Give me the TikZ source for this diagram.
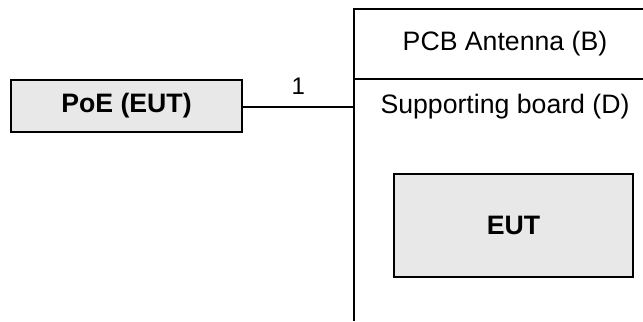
\documentclass[tikz,border=0pt]{standalone}
\usepackage{fontspec}
\setmainfont{Liberation Sans}

\tikzset{
  unit/.style={draw, fill=gray!18, font=\bfseries, inner sep=0pt},
}

\begin{document}
\begin{tikzpicture}[x=0.375pt, y=-0.375pt, line width=0.6pt]
        \useasboundingbox (0,0) rectangle (643,321);

        % Marco de la placa (abierto a la derecha y abajo)
        \draw (643,9) -- (354,9) -- (354,321);
        \draw (354,79) -- (643,79);
        \node (ant) at (505,44) {PCB Antenna (B)};
        \node (board) at (505,107) {Supporting board (D)};

        % Equipos
        \node[unit, minimum width=86.6pt, minimum height=19.5pt] (poe) at (126.5,106) {PoE (EUT)};
        \node[unit, minimum width=89.6pt, minimum height=38.6pt] (eut) at (513.5,225.5) {EUT};

        % Cable
        \coordinate (port) at (354,107);
        \draw (poe.east |- port) -- (port) node[midway, above=1pt, font=\small] {1};
    \end{tikzpicture}
\end{document}
